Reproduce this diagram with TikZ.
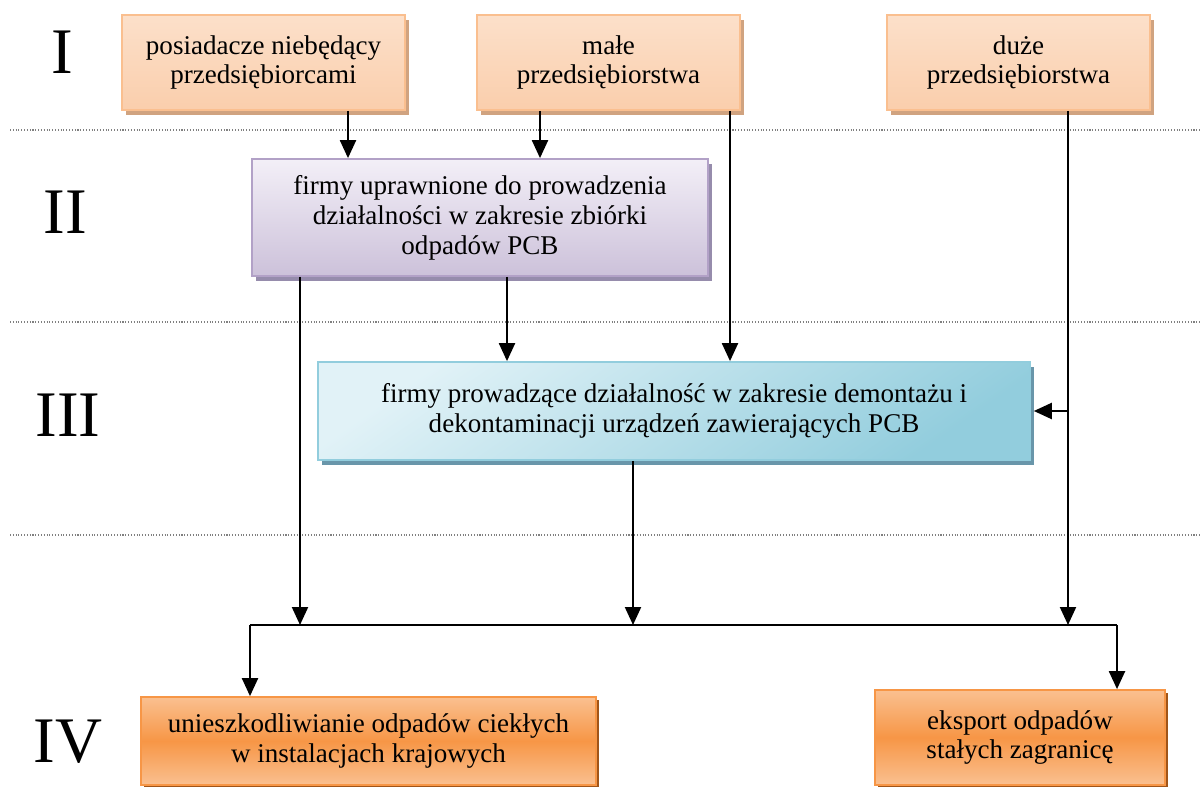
\documentclass[tikz,border=0pt]{standalone}
\usepackage{fontspec}
\setmainfont{Liberation Serif}
\usetikzlibrary{shadows,arrows.meta}
\definecolor{peachT}{RGB}{252,224,202}
\definecolor{peachB}{RGB}{250,206,172}
\definecolor{peachD}{RGB}{250,191,143}
\definecolor{peachS}{RGB}{208,163,128}
\definecolor{lavT}{RGB}{243,239,247}
\definecolor{lavB}{RGB}{204,193,218}
\definecolor{lavD}{RGB}{178,161,199}
\definecolor{lavS}{RGB}{150,140,172}
\definecolor{bluL}{RGB}{225,242,247}
\definecolor{bluR}{RGB}{146,205,221}
\definecolor{bluD}{RGB}{146,205,221}
\definecolor{bluS}{RGB}{105,150,170}
\definecolor{orL}{RGB}{250,192,144}
\definecolor{orM}{RGB}{247,150,70}
\definecolor{orS}{RGB}{160,85,25}
\tikzset{
  box/.style={draw, line width=1pt, align=center, inner sep=0pt,
    font=\fontsize{15.4}{17}\selectfont},
  peach/.style={box, draw=peachD, top color=peachT, bottom color=peachB,
    drop shadow={shadow xshift=0.08cm, shadow yshift=-0.1cm, fill=peachS, opacity=1}},
  lav/.style={box, draw=lavD, top color=lavT, bottom color=lavB,
    drop shadow={shadow xshift=0.08cm, shadow yshift=-0.1cm, fill=lavS, opacity=1}},
  blu/.style={box, draw=bluD, left color=bluL, right color=bluR, shading angle=35,
    drop shadow={shadow xshift=0.08cm, shadow yshift=-0.1cm, fill=bluS, opacity=1}},
  ora/.style={box, draw=orM, top color=orL, bottom color=orL, middle color=orM,
    drop shadow={shadow xshift=0.06cm, shadow yshift=-0.06cm, fill=orS, opacity=1}},
  arr/.style={line width=1.2pt, -{Triangle[width=0.32cm, length=0.36cm]}},
  ln/.style={line width=1.2pt},
  sep/.style={gray, densely dotted, line width=0.6pt},
  roman/.style={font=\fontsize{37}{40}\selectfont}
}
\begin{document}
\begin{tikzpicture}[x=0.02cm, y=-0.02cm]
\useasboundingbox (0,0) rectangle (1200,787);
% separators
\coordinate (sL) at (10,0);
\coordinate (sR) at (1200,0);
\coordinate (r1) at (0,130);
\coordinate (r2) at (0,322);
\coordinate (r3) at (0,535);
\draw[sep] (r1 -| sL) -- (r1 -| sR);
\draw[sep] (r2 -| sL) -- (r2 -| sR);
\draw[sep] (r3 -| sL) -- (r3 -| sR);
% roman numerals
\node[roman] (nI) at (62,52) {I};
\node[roman] (nII) at (65,212) {II};
\node[roman] (nIII) at (68,415) {III};
\node[roman] (nIV) at (68,742) {IV};
% boxes
\node[peach, minimum width=5.66cm, minimum height=1.9cm] (b1) at (263.5,62.5)
  {posiadacze niebędący\\przedsiębiorcami};
\node[peach, minimum width=5.26cm, minimum height=1.9cm] (b2) at (608.5,62.5)
  {małe\\przedsiębiorstwa};
\node[peach, minimum width=5.26cm, minimum height=1.9cm] (b3) at (1018.5,62.5)
  {duże\\przedsiębiorstwa};
\node[lav, minimum width=9.12cm, minimum height=2.34cm] (bII) at (480,217.5)
  {firmy uprawnione do prowadzenia\\działalności w zakresie zbiórki\\odpadów PCB};
\node[blu, minimum width=14.24cm, minimum height=1.96cm] (bIII) at (674,411)
  {firmy prowadzące działalność w zakresie demontażu i\\dekontaminacji urządzeń zawierających PCB};
\node[ora, minimum width=9.1cm, minimum height=1.76cm] (bL) at (368.5,741)
  {unieszkodliwianie odpadów ciekłych\\w instalacjach krajowych};
\node[ora, minimum width=5.8cm, minimum height=1.9cm] (bR) at (1020,737.5)
  {eksport odpadów\\stałych zagranicę};
% column coordinates
\coordinate (c250) at (250,0);
\coordinate (c300) at (300,0);
\coordinate (c348) at (348,0);
\coordinate (c507) at (507,0);
\coordinate (c540) at (540,0);
\coordinate (c633) at (633,0);
\coordinate (c730) at (730,0);
\coordinate (c1068) at (1068,0);
\coordinate (c1117) at (1117,0);
\coordinate (bus) at (0,625);
% connectors
\draw[arr] (b1.south -| c348) -- (bII.north -| c348);
\draw[arr] (b2.south -| c540) -- (bII.north -| c540);
\draw[arr] (b2.south -| c730) -- (bIII.north -| c730);
\draw[arr] (bII.south -| c507) -- (bIII.north -| c507);
\draw[arr] (bII.south -| c300) -- (bus -| c300);
\draw[arr] (bIII.south -| c633) -- (bus -| c633);
\draw[arr] (b3.south -| c1068) -- (bus -| c1068);
\draw[arr] (bIII.east -| c1068) -- ([xshift=0.06cm]bIII.east);
\draw[ln] (bus -| c250) -- (bus -| c1117);
\draw[arr] (bus -| c250) -- (bL.north -| c250);
\draw[arr] (bus -| c1117) -- (bR.north -| c1117);
\end{tikzpicture}
\end{document}
